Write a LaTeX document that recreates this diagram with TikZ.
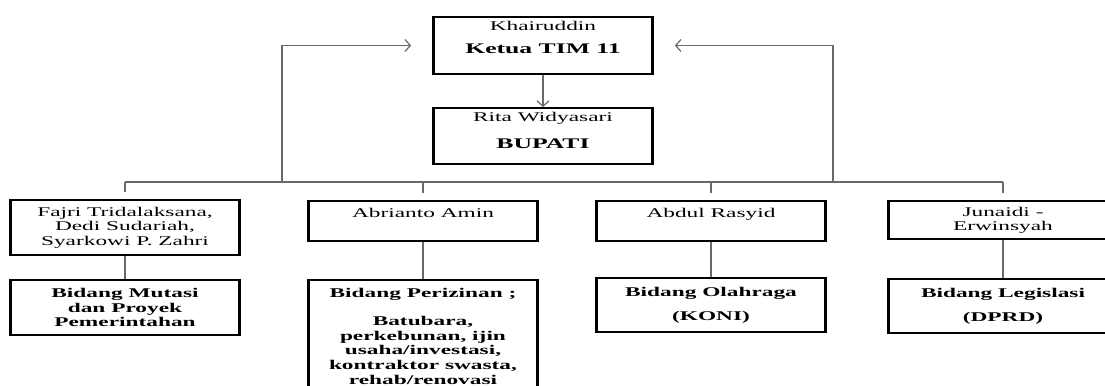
\documentclass[tikz,border=0pt]{standalone}
\usepackage{fontspec}
\setmainfont{Liberation Serif}
\newfontfamily\wideserif[FakeStretch=1.75]{Liberation Serif}
\usepackage{tikz}
\usetikzlibrary{positioning,arrows,arrows.meta}
\definecolor{linkgray}{RGB}{105,105,105}

\tikzset{
    orgbox/.style={draw=black, line width=1.8pt, align=center, inner sep=3pt, anchor=north,
        minimum width=172pt, font=\wideserif\fontsize{10}{11}\selectfont},
    namebox/.style={orgbox},
    bidangbox/.style={orgbox, font=\wideserif\bfseries\fontsize{10}{11}\selectfont},
    link/.style={draw=linkgray, line width=0.9pt},
    >={Straight Barb[length=4pt,width=9pt]}
}

\begin{document}
\begin{tikzpicture}[x=0.75pt,y=-0.75pt]
    \path[use as bounding box, fill=white] (0,0) rectangle (1105,385);

    % Ketua and Bupati
    \node[orgbox, minimum width=164pt, text depth=12pt] (ketua) at (543,16)
        {Khairuddin\\[6.5pt]{\bfseries\fontsize{11}{12}\selectfont Ketua TIM 11}};
    \node[orgbox, minimum width=164pt, text depth=8.5pt] (bupati) at (543,107)
        {Rita Widyasari\\[9.5pt]{\bfseries\fontsize{11}{12}\selectfont BUPATI}};
    \draw[link,->] (ketua) -- (bupati);

    % Anggota
    \node[namebox, minimum height=41pt] (fajri) at (125,199)
        {Fajri Tridalaksana,\\ Dedi Sudariah,\\ Syarkowi P. Zahri};
    \node[namebox, text height=9.5pt, text depth=14.5pt] (abrianto) at (423,200) {Abrianto Amin};
    \node[namebox, text height=9.5pt, text depth=14.5pt] (abdul) at (711,200) {Abdul Rasyid};
    \node[namebox, minimum height=28.5pt] (junaidi) at (1003,200) {Junaidi -\\ Erwinsyah};

    % Bidang
    \node[bidangbox, minimum height=41pt] (mutasi) at (125,279)
        {Bidang Mutasi\\ dan Proyek\\ Pemerintahan};
    \node[bidangbox, minimum height=84pt] (perizinan) at (423,279)
        {Bidang Perizinan ;\\[10pt] Batubara,\\ perkebunan, ijin\\ usaha/investasi,\\ kontraktor swasta,\\ rehab/renovasi};
    \node[bidangbox, minimum height=40.5pt] (olahraga) at (711,277) {Bidang Olahraga\\[7pt] (KONI)};
    \node[bidangbox, minimum height=40.5pt] (legislasi) at (1003,278) {Bidang Legislasi\\[7pt] (DPRD)};

    % Garis penghubung
    \coordinate (busL) at (125,182);
    \coordinate (busR) at (1003,182);
    \coordinate (riseL) at (282,182);
    \coordinate (riseR) at (833,182);
    \draw[link] (busL) -- (busR);
    \foreach \n in {fajri,abrianto,abdul,junaidi}
        \draw[link, shorten >=5pt] (\n.north |- busL) -- (\n.north);
    \draw[link] (fajri) -- (mutasi);
    \draw[link] (abrianto) -- (perizinan);
    \draw[link] (abdul) -- (olahraga);
    \draw[link] (junaidi) -- (legislasi);
    \draw[link,->,shorten >=16pt] (riseL) |- (ketua.west);
    \draw[link,->,shorten >=16pt] (riseR) |- (ketua.east);
\end{tikzpicture}
\end{document}
